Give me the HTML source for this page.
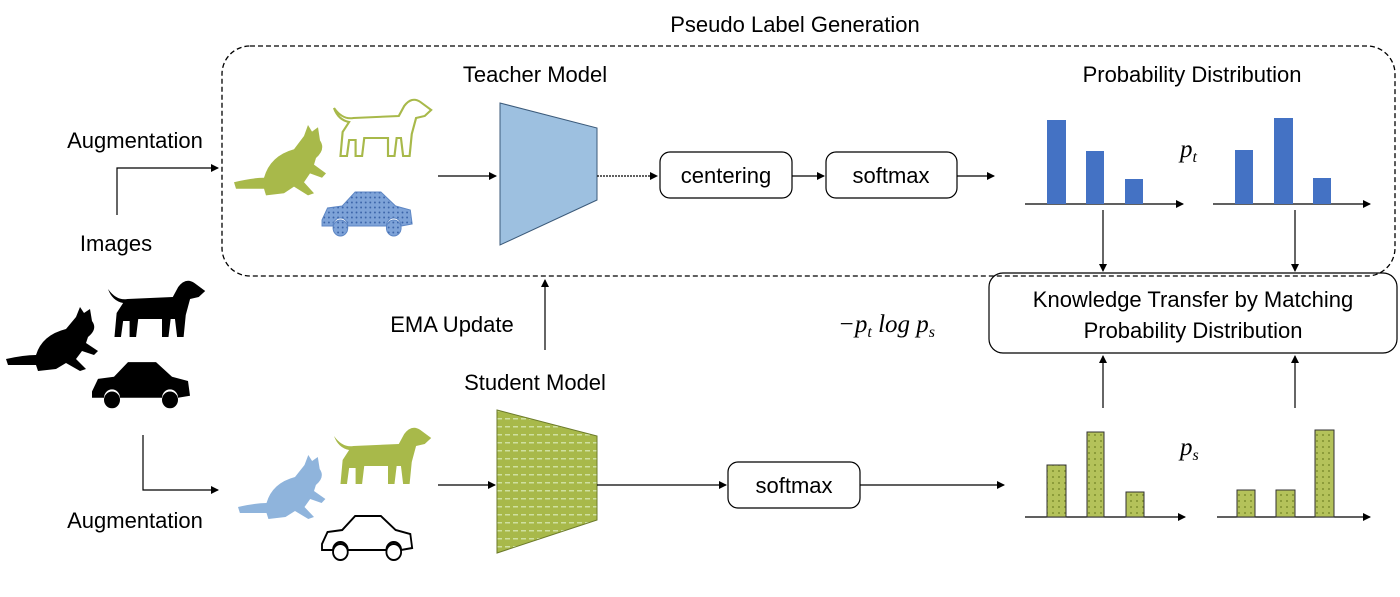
<!DOCTYPE html><html><head><style>
body{margin:0;background:#fff;width:1400px;height:592px;overflow:hidden;font-family:"Liberation Sans",sans-serif}
</style></head><body>
<svg width="1400" height="592" xmlns="http://www.w3.org/2000/svg" font-family="Liberation Sans, sans-serif">
<defs>
<marker id="a" markerWidth="8" markerHeight="8" refX="7" refY="4" orient="auto" markerUnits="userSpaceOnUse"><path d="M0,0 L8,4 L0,8 z" fill="#000"/></marker>
<pattern id="g" width="6" height="6" patternUnits="userSpaceOnUse"><rect width="6" height="6" fill="#b4c25a"/><circle cx="3" cy="3" r="1" fill="#7f8f30"/></pattern>
<pattern id="b" width="5" height="5" patternUnits="userSpaceOnUse"><rect width="5" height="5" fill="#7ea3d8"/><circle cx="2.5" cy="2.5" r="1" fill="#3a63a8"/></pattern>
<pattern id="st" width="8" height="8" patternUnits="userSpaceOnUse"><rect width="8" height="8" fill="#a8b94a"/><rect x="1" y="2" width="5" height="1.5" fill="#cfe0a0"/></pattern>
<g id="dog"><path d="M0,8 Q8,20 18,18 L60,16 L65,6 Q72,-4 80,2 L90,10 L84,16 L76,18 L72,34 L70,56 L64,56 L62,38 L58,38 L56,56 L50,56 L50,38 L28,38 L26,56 L20,56 L20,40 L14,40 L12,56 L6,56 L8,32 L14,22 Q4,20 0,8z"/></g>
<g id="cat"><path d="M0,52 Q18,48 30,48 Q36,28 60,22 L70,10 L74,0 L78,6 L84,2 L86,14 Q92,22 82,30 L80,36 L92,44 L88,48 L76,44 L70,52 L80,62 L74,64 L60,56 L50,62 L32,64 L30,58 Q14,58 2,58z"/></g>
<g id="car"><path d="M0,30 L6,18 L22,16 L36,2 L64,2 L80,16 L96,20 L98,34 L86,36 A8,8 0 0 0 70,36 L28,36 A8,8 0 0 0 12,36 L0,36z"/><circle cx="20" cy="38" r="8"/><circle cx="78" cy="38" r="8"/></g>
</defs>
<text x="795" y="32" font-size="22" text-anchor="middle">Pseudo Label Generation</text>
<rect x="222" y="46" width="1173" height="230" rx="28" fill="none" stroke="#000" stroke-width="1.3" stroke-dasharray="5,3"/>
<text x="535" y="82" font-size="22" text-anchor="middle">Teacher Model</text>
<text x="1192" y="82" font-size="22" text-anchor="middle">Probability Distribution</text>
<text x="135" y="148" font-size="22" text-anchor="middle">Augmentation</text>
<text x="116" y="251" font-size="22" text-anchor="middle">Images</text>
<text x="135" y="528" font-size="22" text-anchor="middle">Augmentation</text>
<text x="452" y="332" font-size="22" text-anchor="middle">EMA Update</text>
<text x="535" y="390" font-size="22" text-anchor="middle">Student Model</text>
<path d="M117,215 V168 H218" fill="none" stroke="#000" stroke-width="1.2" marker-end="url(#a)"/>
<path d="M143,435 V490 H218" fill="none" stroke="#000" stroke-width="1.2" marker-end="url(#a)"/>
<g fill="#000"><use href="#dog" transform="translate(108,281) scale(1.08,1)"/><use href="#cat" transform="translate(6,307)"/><use href="#car" transform="translate(92,360) scale(1,1.05)"/></g>
<use href="#dog" transform="translate(334,100) scale(1.08,1)" fill="#fff" stroke="#a8b94a" stroke-width="2"/>
<use href="#cat" transform="translate(234,125) scale(1,1.1)" fill="#a8b94a"/>
<use href="#car" transform="translate(322,190) scale(0.92,1)" fill="url(#b)" stroke="#5d86c4"/>
<use href="#dog" transform="translate(334,428) scale(1.08,1)" fill="#a8b94a"/>
<use href="#cat" transform="translate(238,455) scale(0.95,1)" fill="#8fb4dc"/>
<use href="#car" transform="translate(322,514) scale(0.92,1)" fill="#fff" stroke="#000" stroke-width="2"/>
<polygon points="500,103 597,128 597,200 500,245" fill="#9dc0e0" stroke="#3b5a7a" stroke-width="1"/>
<polygon points="497,410 597,436 597,520 497,553" fill="url(#st)" stroke="#6b7a2a"/>
<g stroke="#000" stroke-width="1.2" fill="none">
<line x1="438" y1="176" x2="496" y2="176" marker-end="url(#a)"/>
<line x1="597" y1="176" x2="657" y2="176" marker-end="url(#a)" stroke-dasharray="2,1"/>
<line x1="792" y1="176" x2="824" y2="176" marker-end="url(#a)"/>
<line x1="957" y1="176" x2="994" y2="176" marker-end="url(#a)"/>
<line x1="438" y1="485" x2="495" y2="485" marker-end="url(#a)"/>
<line x1="597" y1="485" x2="726" y2="485" marker-end="url(#a)"/>
<line x1="860" y1="485" x2="1004" y2="485" marker-end="url(#a)"/>
<line x1="545" y1="350" x2="545" y2="280" marker-end="url(#a)"/>
<line x1="1103" y1="210" x2="1103" y2="271" marker-end="url(#a)"/>
<line x1="1295" y1="210" x2="1295" y2="271" marker-end="url(#a)"/>
<line x1="1103" y1="408" x2="1103" y2="356" marker-end="url(#a)"/>
<line x1="1295" y1="408" x2="1295" y2="356" marker-end="url(#a)"/>
<line x1="1025" y1="204" x2="1183" y2="204" marker-end="url(#a)"/>
<line x1="1213" y1="204" x2="1370" y2="204" marker-end="url(#a)"/>
<line x1="1025" y1="517" x2="1185" y2="517" marker-end="url(#a)"/>
<line x1="1217" y1="517" x2="1370" y2="517" marker-end="url(#a)"/>
<rect x="660" y="152" width="132" height="46" rx="10"/>
<rect x="826" y="152" width="131" height="46" rx="10"/>
<rect x="728" y="462" width="132" height="46" rx="10"/>
<rect x="989" y="273" width="408" height="80" rx="14"/>
</g>
<text x="726" y="183" font-size="22" text-anchor="middle">centering</text>
<text x="891" y="183" font-size="22" text-anchor="middle">softmax</text>
<text x="794" y="493" font-size="22" text-anchor="middle">softmax</text>
<text x="1193" y="307" font-size="22" text-anchor="middle">Knowledge Transfer by Matching</text>
<text x="1193" y="338" font-size="22" text-anchor="middle">Probability Distribution</text>
<text x="838" y="332" font-size="25" font-family="Liberation Serif, serif" font-style="italic">−p<tspan font-size="16" dy="5">t</tspan><tspan dy="-5"> log p</tspan><tspan font-size="16" dy="5">s</tspan></text>
<text x="1180" y="157" font-size="25" font-family="Liberation Serif, serif" font-style="italic">p<tspan font-size="16" dy="5">t</tspan></text>
<text x="1180" y="455" font-size="25" font-family="Liberation Serif, serif" font-style="italic">p<tspan font-size="16" dy="5">s</tspan></text>
<g fill="#4472c4">
<rect x="1047" y="120" width="19" height="84"/><rect x="1086" y="151" width="18" height="53"/><rect x="1125" y="179" width="18" height="25"/>
<rect x="1235" y="150" width="18" height="54"/><rect x="1274" y="118" width="19" height="86"/><rect x="1313" y="178" width="18" height="26"/>
</g>
<g fill="url(#g)" stroke="#333" stroke-width="1">
<rect x="1047" y="465" width="19" height="52"/><rect x="1087" y="432" width="17" height="85"/><rect x="1126" y="492" width="18" height="25"/>
<rect x="1237" y="490" width="18" height="27"/><rect x="1276" y="490" width="19" height="27"/><rect x="1315" y="430" width="19" height="87"/>
</g>
</svg>
</body></html>
